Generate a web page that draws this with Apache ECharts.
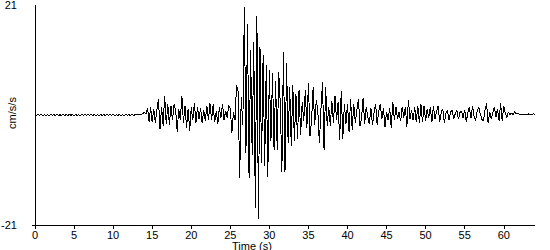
<!DOCTYPE html>
<html><head><meta charset="utf-8">
<script src="https://cdn.jsdelivr.net/npm/echarts@6/dist/echarts.min.js"></script>
<style>html,body{margin:0;padding:0;background:#fff}#c{width:550px;height:250px}#c svg path{shape-rendering:crispEdges}</style>
</head><body><div id="c"></div>
<script>
// sampling of the record (seconds)
const startTime = 0;
const sampleStep = 0.2;

// 0 - 12.8 s : pre-event quiet part (cm/s/s)
const quietValues = [
  0.1, -0.1, 0.1, -0.05, 0.1, -0.1, 0.05, -0.1, 0.1, -0.1,
  0.1, -0.05, 0.1, -0.1, 0.1, -0.1, 0.05, -0.1, 0.1, -0.1,
  0.1, -0.1, 0.1, -0.05, 0.1, -0.1, 0.1, -0.1, 0.05, -0.1,
  0.1, -0.1, 0.1, -0.1, 0.1, -0.05, 0.1, -0.1, 0.1, -0.1,
  0.05, -0.1, 0.1, -0.1, 0.1, -0.1, 0.1, -0.05, 0.1, -0.1,
  0.1, -0.1, 0.05, -0.1, 0.1, -0.1, 0.1, -0.1, 0.1, -0.05,
  0.1, -0.1, 0.1, -0.1, 0.05
];

// 13 - 64 s : strong motion part (cm/s/s)
const waveValues = [
  0, 0.05, 0, 0.1, 0.3, 0.5, 0.2, 1.4, -1.3, 1.6,
  -1.4, 1.2, -1.6, 1.0, 3.1, -2.7, 1.5, -2.0, 3.7, -1.8,
  2.1, -1.9, 1.8, -1.0, 2.0, 1.0, -3.2, 1.2, -1.0, 3.7,
  -1.5, 1.8, -2.5, 1.2, -3.0, 1.5, -1.0, 2.2, -1.5, 1.6,
  -0.8, 1.4, -1.6, 0.9, -1.2, 1.8, -0.9, 2.2, -1.0, 2.0,
  -1.4, 0.8, -1.7, 1.5, -0.6, 2.1, -1.0, 0.8, -0.5, 1.8,
  1.2, -3.4, 0.5, -1.0, 5.8, 4.5, -12.0, 3.5, -2.0, 20.6,
  -7.3, 17.4, -12.0, 12.4, -7.6, 14.0, -17.8, 18.9, -19.9, 12.9,
  -9.2, 11.4, -9.7, 9.5, -11.8, 8.5, -5.0, 8.0, -6.6, 6.4,
  -6.6, 8.2, 2.0, -10.8, 12.1, -10.8, 10.0, -5.4, 5.4, -6.0,
  5.8, -5.0, 4.0, -4.5, 4.8, -3.8, 2.5, -1.2, 4.8, -2.5,
  6.2, -4.1, -1.0, 5.3, -2.0, 2.9, 0.8, -5.4, 1.0, 6.2,
  -6.7, 5.4, -2.0, 1.5, -2.0, 2.7, -1.5, 3.6, -1.0, 2.5,
  -4.8, 4.6, -4.5, 2.1, -1.7, 2.1, -3.2, 3.1, -2.8, 2.1,
  -1.5, 1.0, 3.1, -2.1, -0.5, 3.3, -1.7, 1.6, -0.5, -1.7,
  1.3, -1.9, 0.5, 2.1, -1.9, 0.8, 2.1, -0.8, 1.3, -2.3,
  0.6, -1.0, 1.3, -2.5, 2.5, -1.0, 1.6, -0.8, 0.6, -1.2,
  1.6, -0.5, 1.6, -2.2, 2.9, -0.8, 0.9, -1.0, 1.6, -1.3,
  1.8, -1.6, 2.0, -1.4, 1.8, -1.1, 1.2, -0.6, 1.5, -1.4,
  1.8, -0.8, 0.6, 1.8, -1.4, 0.5, 1.2, -1.6, 0.4, 0.9,
  -1.0, 0.6, 0.9, -0.7, 0.3, 0.9, -0.8, 0.5, 0.8, -0.6,
  1.0, -1.3, 0.4, 1.5, -0.6, 1.8, -0.3, -1.1, 0.7, 1.5,
  0.2, -0.8, -1.2, 0.9, 2.2, -1.6, 0.6, -0.8, 0.5, 1.5,
  -0.4, 1.2, -1.1, 2.2, -1.1, 1.8, 0.3, -0.5, 0.6, 0.0,
  0.4, 0.1, 0.7, 0.2, 0.3, 0.1, 0.2, 0.0, 0.2, 0.1,
  0.1, 0.2, 0.0, 0.1, 0.2, 0.1
];

const xTickValues = [0, 5, 10, 15, 20, 25, 30, 35, 40, 45, 50, 55, 60];
const yTickValues = [-21, 21];
const xAxisTitle = 'Time (s)';
const yAxisTitle = 'cm/s/s';

const accel = quietValues.concat(waveValues);
const points = accel.map((v, i) => [Math.round((startTime + i * sampleStep) * 100) / 100, v]);

const FONT = '"Liberation Sans", Arial, sans-serif';
const chart = echarts.init(document.getElementById('c'), null, {renderer: 'svg'});
chart.setOption({
  animation: false,
  backgroundColor: '#ffffff',
  textStyle: {fontFamily: FONT, color: '#000'},
  title: {
    text: xAxisTitle, left: 232, top: 240, padding: 0,
    textStyle: {fontFamily: FONT, fontSize: 11, fontWeight: 'normal', color: '#000'}
  },
  graphic: [{
    type: 'text', x: 12, y: 113, rotation: Math.PI / 2,
    style: {text: yAxisTitle, fontFamily: FONT, fontSize: 11, fill: '#000', align: 'center', verticalAlign: 'middle'}
  }],
  grid: {left: 35, right: 15, top: 5, bottom: 25, containLabel: false, outerBoundsMode: 'none'},
  xAxis: {
    type: 'value', min: 0, max: 64,
    axisLine: {onZero: false, lineStyle: {color: '#000', width: 1}},
    axisTick: {show: true, length: 4, customValues: xTickValues, lineStyle: {color: '#000', width: 1}},
    axisLabel: {color: '#000', fontSize: 11, fontFamily: FONT, margin: 4, customValues: xTickValues},
    splitLine: {show: false}
  },
  yAxis: {
    type: 'value', min: -21, max: 21,
    axisLine: {show: true, lineStyle: {color: '#000', width: 1}},
    axisTick: {show: true, length: 3, customValues: [-21], lineStyle: {color: '#000', width: 1}},
    axisLabel: {color: '#000', fontSize: 11, fontFamily: FONT, margin: 18, customValues: yTickValues},
    splitLine: {show: false}
  },
  series: [{
    type: 'line', data: points, showSymbol: false, symbol: 'none',
    lineStyle: {color: '#000', width: 1}, clip: true
  }]
});
</script>
</body></html>
